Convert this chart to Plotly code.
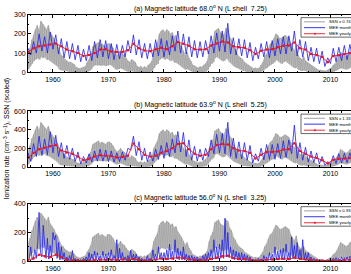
import plotly.graph_objects as go

# ---------------- data ----------------
years = list(range(1955, 2014))  # yearly means plotted at year + 0.5

# Sunspot number envelope (raw, daily spread), 3 samples per year from 1955.5
ssn_hi = [120, 170,
          230, 260, 300, 330, 290, 360, 340, 320, 300, 330, 280, 260,
          240, 210, 190, 150, 120, 110, 90, 80, 70, 70, 60, 55,
          35, 30, 25, 30, 35, 40, 70, 90, 120, 180, 190, 200,
          210, 190, 200, 190, 180, 200, 200, 190, 170, 140, 120, 130,
          150, 130, 120, 100, 80, 70, 90, 80, 70, 40, 35, 40,
          30, 40, 30, 50, 60, 80, 150, 180, 210, 270, 290, 300,
          280, 300, 290, 270, 280, 250, 260, 220, 200, 180, 150, 120,
          140, 100, 80, 50, 45, 35, 30, 40, 35, 50, 60, 80,
          150, 190, 220, 290, 300, 310, 280, 270, 260, 310, 300, 250,
          230, 180, 160, 130, 110, 100, 90, 70, 60, 50, 40, 35,
          25, 30, 25, 30, 50, 70, 110, 130, 170, 200, 210, 240,
          270, 260, 240, 240, 250, 260, 250, 240, 200, 170, 150, 190,
          120, 100, 90, 110, 80, 70, 60, 50, 40, 30, 25, 15,
          15, 10, 10, 8, 15, 25, 30, 50, 60, 80, 110, 140,
          130, 120, 110, 120, 140, 150, 170, 150, 140]
ssn_lo = [20, 40,
          60, 80, 90, 100, 90, 110, 100, 110, 90, 90, 80, 70,
          60, 50, 40, 20, 15, 15, 10, 10, 5, 5, 5, 0,
          0, 0, 0, 0, 0, 0, 5, 10, 20, 40, 50, 50,
          50, 45, 50, 50, 45, 50, 55, 50, 40, 25, 20, 25,
          30, 25, 20, 10, 5, 5, 10, 5, 5, 0, 0, 0,
          0, 0, 0, 0, 5, 10, 30, 50, 60, 90, 100, 100,
          90, 100, 90, 80, 90, 70, 70, 60, 50, 40, 30, 20,
          25, 15, 10, 0, 0, 0, 0, 0, 0, 5, 5, 15,
          40, 60, 70, 100, 110, 100, 90, 80, 80, 100, 90, 70,
          60, 45, 35, 30, 25, 20, 10, 10, 5, 5, 0, 0,
          0, 0, 0, 0, 5, 10, 25, 30, 45, 55, 60, 70,
          90, 80, 70, 60, 70, 80, 70, 60, 50, 40, 30, 35,
          20, 15, 10, 15, 10, 5, 5, 3, 0, 0, 0, 0,
          0, 0, 0, 0, 0, 0, 0, 5, 10, 15, 25, 30,
          30, 25, 20, 25, 35, 40, 45, 40, 35]
ssn_scale = [0.74, 1.33, 0.93]

# MEE monthly (sampled twice per year from 1955.5) for panels a and b
mee_month_a = [125, 90, 160, 100, 200, 110, 185, 100, 210, 120, 195, 95, 175, 75,
               160, 70, 150, 65, 140, 55, 120, 60, 140, 60, 160, 75, 170, 80,
               165, 70, 150, 65, 145, 70, 140, 80, 165, 100, 195, 90, 170, 75,
               150, 70, 150, 80, 170, 85, 175, 80, 165, 90, 190, 110, 215, 100,
               200, 95, 185, 80, 165, 75, 160, 80, 165, 95, 190, 100, 205, 110,
               215, 105, 255, 95, 180, 90, 175, 85, 170, 75, 155, 60, 130, 70,
               150, 80, 160, 75, 165, 85, 175, 95, 185, 95, 190, 110, 215, 85,
               170, 80, 160, 60, 130, 55, 125, 45, 110, 30, 75, 45, 125, 55,
               130, 60, 140, 65, 145, 70]
mee_month_b = [150, 60, 250, 110, 330, 120, 300, 130, 380, 150, 340, 110, 260, 90,
               230, 80, 200, 55, 160, 30, 110, 40, 140, 50, 170, 60, 190, 60,
               180, 55, 170, 50, 150, 55, 160, 70, 200, 180, 330, 120, 270, 70,
               200, 55, 160, 60, 190, 80, 230, 90, 260, 110, 300, 150, 380, 160,
               370, 110, 290, 70, 220, 60, 190, 70, 200, 110, 290, 140, 350, 150,
               360, 140, 480, 110, 310, 90, 270, 85, 260, 70, 230, 40, 140, 60,
               200, 75, 240, 80, 240, 80, 250, 90, 280, 100, 290, 140, 450, 90,
               260, 70, 210, 50, 170, 45, 150, 30, 110, 15, 55, 30, 120, 35,
               140, 40, 145, 45, 150, 50]
# MEE monthly for panel c (sampled four times per year from 1955.5)
mee_month_c = [5, 20,
               100, 10, 30, 80, 20, 130, 340, 60, 30, 250, 120, 20,
               160, 15, 110, 25, 200, 150, 180, 20, 130, 10, 100, 15,
               60, 5, 30, 5, 40, 5, 75, 3, 20, 3, 15, 2,
               10, 2, 20, 3, 30, 5, 60, 5, 50, 5, 70, 8,
               60, 10, 40, 5, 70, 8, 50, 5, 60, 10, 80, 6,
               40, 5, 150, 5, 90, 8, 60, 5, 30, 5, 40, 5,
               75, 10, 50, 5, 50, 5, 30, 3, 20, 3, 10, 2,
               40, 3, 20, 5, 80, 10, 50, 8, 100, 15, 60, 10,
               60, 10, 80, 10, 120, 15, 70, 10, 150, 20, 90, 10,
               70, 10, 100, 8, 50, 8, 40, 5, 40, 5, 30, 3,
               30, 3, 20, 3, 40, 5, 50, 5, 60, 10, 80, 10,
               150, 15, 100, 15, 120, 20, 150, 20, 300, 30, 200, 25,
               100, 15, 80, 10, 70, 10, 60, 8, 60, 8, 50, 5,
               40, 5, 30, 3, 15, 3, 10, 2, 20, 3, 15, 3,
               40, 5, 30, 5, 60, 8, 50, 5, 100, 10, 70, 10,
               80, 10, 90, 10, 120, 10, 60, 10, 170, 20, 110, 15,
               130, 15, 80, 10, 150, 10, 60, 8, 60, 5, 30, 5,
               20, 3, 15, 2, 10, 2, 8, 2, 5, 2, 5, 2,
               15, 3, 20, 3, 25, 3, 20, 3, 30, 5, 25, 5,
               30, 5, 35, 5, 40]

# MEE yearly means
mee_year_a = [105, 125, 135, 140, 145, 150, 135, 118, 110, 100, 85, 90, 100, 118,
              120, 108, 105, 105, 115, 148, 125, 113, 110, 120, 128, 120, 135, 158,
              148, 138, 120, 118, 120, 140, 150, 160, 155, 135, 130, 128, 115, 95,
              112, 118, 120, 130, 138, 140, 155, 125, 118, 95, 90, 80, 52, 85,
              88, 95, 100]
mee_year_b = [100, 150, 190, 205, 220, 235, 175, 155, 140, 110, 70, 85, 110, 125,
              120, 115, 100, 105, 120, 250, 190, 130, 110, 120, 150, 170, 200, 245,
              255, 190, 140, 120, 130, 190, 235, 245, 240, 200, 175, 170, 150, 90,
              130, 160, 160, 165, 185, 190, 255, 170, 140, 110, 95, 70, 35, 75,
              85, 90, 95]
mee_year_c = [8, 20, 45, 35, 30, 45, 30, 8, 6, 5, 4, 5, 8, 10,
              8, 10, 8, 12, 8, 15, 8, 5, 6, 10, 20, 15, 20, 25,
              22, 12, 8, 6, 8, 15, 25, 35, 38, 22, 15, 15, 10, 5,
              6, 10, 12, 15, 18, 15, 25, 18, 12, 8, 6, 4, 3, 5,
              6, 8, 10]

titles = ["(a) Magnetic latitude 68.0<sup>o</sup> N (L shell  7.25)",
          "(b) Magnetic latitude 63.9<sup>o</sup> N (L shell  5.25)",
          "(c) Magnetic latitude 56.0<sup>o</sup> N (L shell  3.25)"]
y_max = [300, 600, 400]
y_dtick = [100, 200, 200]

# ---------------- layout geometry ----------------
W, H = 351, 274
FONT = "Liberation Sans, Arial, sans-serif"
panel_px = [(11, 70), (110, 167), (205, 264)]   # top, bottom pixel rows
left_px = 28
x_range = [1955.5, 2013.7]

GREY_FILL = "rgb(196,196,196)"
GREY = "rgb(150,150,150)"
BLUE = "rgb(30,30,235)"
RED = "rgb(235,20,40)"


def px(x):
    return x / W


def py(y):
    return 1 - y / H


fig = go.Figure()
month_series = [mee_month_a, mee_month_b, mee_month_c]
month_step = [0.5, 0.5, 0.25]
year_series = [mee_year_a, mee_year_b, mee_year_c]

ssn_x = [1955.5 + i / 3 for i in range(len(ssn_hi))]
shapes = []
annotations = []

for k in range(3):
    xa = "x" if k == 0 else f"x{k+1}"
    ya = "y" if k == 0 else f"y{k+1}"
    s = ssn_scale[k]
    # grey band: upper envelope forward, lower envelope backward
    band_x = ssn_x + ssn_x[::-1]
    band_y = [v * s for v in ssn_hi] + [v * s for v in ssn_lo][::-1]
    fig.add_trace(go.Scatter(x=band_x, y=band_y, mode="lines", fill="toself",
                             fillcolor=GREY_FILL, line=dict(color=GREY, width=0.5),
                             xaxis=xa, yaxis=ya, showlegend=False, hoverinfo="skip"))
    # zig-zag texture between envelopes
    zx, zy = [], []
    for i, t in enumerate(ssn_x):
        zx += [t, t + 1 / 6]
        zy += [ssn_hi[i] * s, ssn_lo[i] * s]
    fig.add_trace(go.Scatter(x=zx, y=zy, mode="lines",
                             line=dict(color=GREY, width=0.5),
                             xaxis=xa, yaxis=ya, showlegend=False, hoverinfo="skip"))
    mv = month_series[k]
    mx = [1955.5 + month_step[k] * i for i in range(len(mv))]
    fig.add_trace(go.Scatter(x=mx, y=mv, mode="lines",
                             line=dict(color=BLUE, width=0.8),
                             xaxis=xa, yaxis=ya, showlegend=False))
    yv = year_series[k]
    fig.add_trace(go.Scatter(x=[yr + 0.5 for yr in years], y=yv, mode="lines+markers",
                             line=dict(color=RED, width=0.9),
                             marker=dict(color=RED, size=2.5),
                             xaxis=xa, yaxis=ya, showlegend=False))

    top, bot = panel_px[k]
    dom_y = [py(bot), py(top)]
    fig.layout[f"xaxis{'' if k == 0 else k+1}"] = dict(
        domain=[px(left_px), 1.0], range=x_range, anchor=ya,
        tickmode="linear", tick0=1960, dtick=10,
        ticks="inside", ticklen=3, tickwidth=0.7, tickcolor="black",
        showline=True, linecolor="black", linewidth=0.8, mirror="ticks",
        showgrid=False, zeroline=False,
        minor=dict(ticks="inside", ticklen=1.5, dtick=2, tickcolor="black", tickwidth=0.5),
        tickfont=dict(family=FONT, size=7, color="black"))
    fig.layout[f"yaxis{'' if k == 0 else k+1}"] = dict(
        domain=dom_y, range=[0, y_max[k]], anchor=xa,
        tickmode="linear", tick0=0, dtick=y_dtick[k],
        ticks="inside", ticklen=3, tickwidth=0.7, tickcolor="black",
        showline=True, linecolor="black", linewidth=0.8, mirror=False,
        showgrid=False, zeroline=False,
        minor=dict(ticks="inside", ticklen=1.5, dtick=y_dtick[k] / 2,
                   tickcolor="black", tickwidth=0.5),
        tickfont=dict(family=FONT, size=7, color="black"))

    # panel title
    annotations.append(dict(text=titles[k], xref="paper", yref="paper",
                            x=px(200), y=py(top - 6.5), xanchor="center", yanchor="middle",
                            showarrow=False, font=dict(family=FONT, size=7, color="black")))

    # legend box (drawn by hand)
    ly0 = top + 3
    shapes.append(dict(type="rect", xref="paper", yref="paper",
                       x0=px(301), x1=px(380), y0=py(ly0), y1=py(ly0 + 20),
                       fillcolor="white", line=dict(color="black", width=0.6)))
    rows = [(ly0 + 4.3, GREY), (ly0 + 10.3, BLUE), (ly0 + 16.5, RED)]
    labels = [f"SSN x {ssn_scale[k]:.2f}", "MEE monthly", "MEE yearly"]
    for (ry, col), lab in zip(rows, labels):
        shapes.append(dict(type="line", xref="paper", yref="paper",
                           x0=px(304), x1=px(325), y0=py(ry), y1=py(ry),
                           line=dict(color=col, width=0.9)))
        annotations.append(dict(text=lab, xref="paper", yref="paper",
                                x=px(326.5), y=py(ry), xanchor="left", yanchor="middle",
                                showarrow=False,
                                font=dict(family=FONT, size=4.3, color="black")))
    shapes.append(dict(type="circle", xref="paper", yref="paper",
                       x0=px(314), x1=px(316), y0=py(rows[2][0] + 1), y1=py(rows[2][0] - 1),
                       fillcolor=RED, line=dict(color=RED, width=0)))

annotations.append(dict(text="Ionization rate (cm<sup>−3</sup> s<sup>−1</sup>), SSN (scaled)",
                        xref="paper", yref="paper", x=px(7), y=py(138),
                        xanchor="center", yanchor="middle", textangle=-90,
                        showarrow=False, font=dict(family=FONT, size=7, color="black")))

fig.update_layout(width=W, height=H, margin=dict(l=0, r=0, t=0, b=0),
                  paper_bgcolor="white", plot_bgcolor="white",
                  shapes=shapes, annotations=annotations, showlegend=False)

fig.write_html("out.html")
